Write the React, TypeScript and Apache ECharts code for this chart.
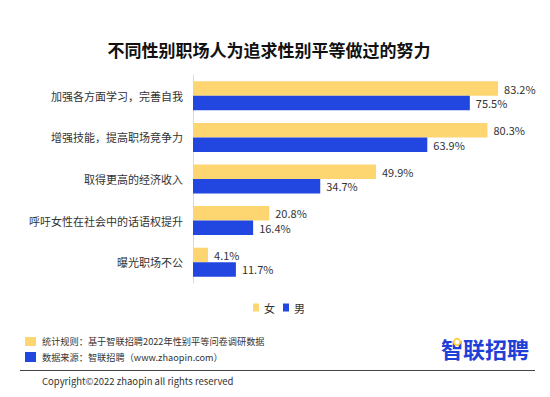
import React, { useEffect, useRef } from "react";
import * as echarts from "echarts";

const categories = [
  "加强各方面学习，完善自我",
  "增强技能，提高职场竞争力",
  "取得更高的经济收入",
  "呼吁女性在社会中的话语权提升",
  "曝光职场不公",
];
const femaleValues = [83.2, 80.3, 49.9, 20.8, 4.1];
const maleValues = [75.5, 63.9, 34.7, 16.4, 11.7];
const seriesNames = ["女", "男"];
const titleText = "不同性别职场人为追求性别平等做过的努力";
const noteRule = "统计规则：基于智联招聘2022年性别平等问卷调研数据";
const noteSource = "数据来源：智联招聘（www.zhaopin.com）";
const copyright = "Copyright©2022 zhaopin all rights reserved";
const logoText = "智联招聘";

const YELLOW = "#FDD672";
const BLUE = "#2247E0";
const FONT = "'Noto Sans CJK SC', 'Noto Sans', sans-serif";

export default function App() {
  const ref = useRef<HTMLDivElement>(null);
  useEffect(() => {
    if (!ref.current) return;
    const chart = echarts.init(ref.current, null, { renderer: "svg" });
    const label = {
      show: true,
      position: "right",
      distance: 6,
      color: "#333",
      fontSize: 11,
      fontFamily: FONT,
      formatter: (p: any) => p.value.toFixed(1) + "%",
    };
    chart.setOption({
      animation: false,
      backgroundColor: "#fff",
      textStyle: { fontFamily: FONT },
      title: {
        text: titleText,
        left: 264,
        textAlign: "center",
        top: 36,
        textStyle: { fontSize: 17, fontWeight: "bold", color: "#111", fontFamily: FONT },
      },
      legend: {
        data: seriesNames,
        left: 253,
        top: 302,
        padding: 0,
        itemWidth: 6,
        itemHeight: 8,
        itemGap: 8,
        icon: "rect",
        textStyle: { fontSize: 11, color: "#333", fontFamily: FONT },
      },
      grid: { left: 193, top: 75, width: 330, height: 208, containLabel: false },
      xAxis: {
        type: "value",
        min: 0,
        max: 90,
        show: false,
        splitLine: { show: false },
      },
      yAxis: {
        type: "category",
        data: categories,
        inverse: true,
        axisLine: { show: true, lineStyle: { color: "#d9d9d9" } },
        axisTick: { show: false },
        axisLabel: { color: "#333", fontSize: 11, margin: 10, fontFamily: FONT },
      },
      series: [
        {
          name: seriesNames[0],
          type: "bar",
          data: femaleValues,
          itemStyle: { color: YELLOW },
          barWidth: 14.5,
          barGap: "0%",
          label,
        },
        {
          name: seriesNames[1],
          type: "bar",
          data: maleValues,
          itemStyle: { color: BLUE },
          barWidth: 14.5,
          barGap: "0%",
          label,
        },
      ],
      graphic: [
        { type: "rect", shape: { x: 25, y: 337, width: 11, height: 9 }, style: { fill: YELLOW } },
        { type: "rect", shape: { x: 25, y: 352, width: 11, height: 10 }, style: { fill: BLUE } },
        {
          type: "text",
          x: 42,
          y: 341,
          style: { text: noteRule, fontSize: 9.2, fill: "#333", fontFamily: FONT, verticalAlign: "middle" },
        },
        {
          type: "text",
          x: 42,
          y: 357,
          style: { text: noteSource, fontSize: 9.2, fill: "#333", fontFamily: FONT, verticalAlign: "middle" },
        },
        {
          type: "rect",
          shape: { x: 20, y: 370, width: 515, height: 1 },
          style: { fill: "#444" },
        },
        {
          type: "text",
          x: 42,
          y: 381,
          style: { text: copyright, fontSize: 9.5, fill: "#333", fontFamily: FONT, verticalAlign: "middle" },
        },
        {
          type: "text",
          x: 441,
          y: 348,
          style: {
            text: logoText,
            fontSize: 22,
            fontWeight: "bold",
            fill: "#1F40D8",
            fontFamily: FONT,
            verticalAlign: "middle",
          },
        },
        {
          type: "circle",
          shape: { cx: 457, cy: 342, r: 3.2 },
          style: { fill: "#fff", stroke: "#FDD23F", lineWidth: 1.8 },
        },
      ],
    });
    return () => chart.dispose();
  }, []);
  return (
    <div style={{ position: "relative", width: 550, height: 397, margin: -8 }}>
      <div ref={ref} style={{ width: 550, height: 397 }} />
      <div
        style={{
          position: "absolute",
          left: 20,
          top: 370,
          width: 515,
          height: 1,
          background: "#444",
          pointerEvents: "none",
        }}
      />
    </div>
  );
}
